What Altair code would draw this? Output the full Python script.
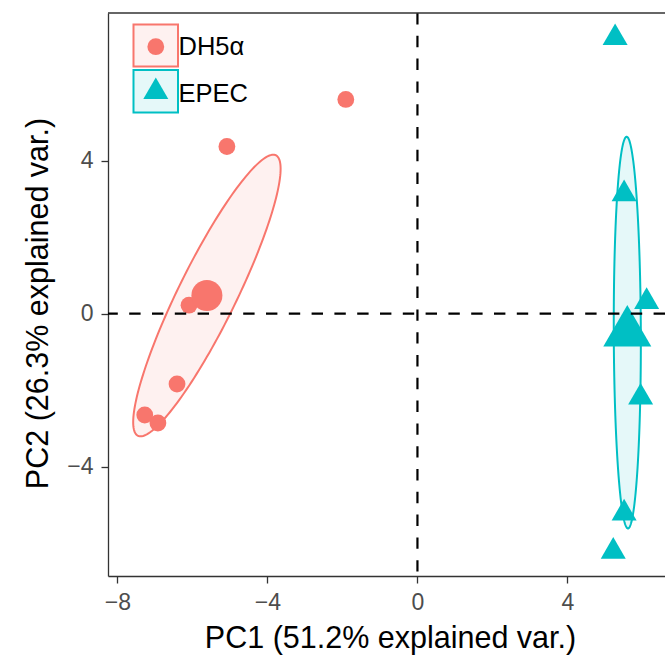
import altair as alt
import numpy as np
import pandas as pd

# ---------------- data ----------------
groups = ["DH5α", "EPEC"]
colors = ["#F8766D", "#00BFC4"]
dh5a_pc1 = [-1.91, -5.08, -6.09, -6.41, -7.27, -6.92]
dh5a_pc2 = [5.60, 4.37, 0.22, -1.84, -2.65, -2.86]
epec_pc1 = [5.27, 5.51, 6.11, 5.95, 5.51, 5.22]
epec_pc2 = [7.21, 3.13, 0.31, -2.19, -5.22, -6.22]
x_ticks = [-8, -4, 0, 4]
y_ticks = [-4, 0, 4]
x_title = "PC1 (51.2% explained var.)"
y_title = "PC2 (26.3% explained var.)"

# ---------------- layout ----------------
W, H = 557, 563
XDOM = [-8.25, 6.6]
YDOM = [-6.86, 7.86]
ELLIPSE_R = 1.0
FONT = "Liberation Sans"
AX = "#333333"
TRI = "M0,-1.1547L1,0.5774L-1,0.5774Z"
shapes = ["circle", TRI]
small_sizes = [283, 625]
big_sizes = [962, 2304]
LABEL_FS = 23

pts = pd.DataFrame({
    "group": [groups[0]] * len(dh5a_pc1) + [groups[1]] * len(epec_pc1),
    "pc1": dh5a_pc1 + epec_pc1,
    "pc2": dh5a_pc2 + epec_pc2,
})

# normal-data ellipses from each group's covariance
rows = []
t = np.linspace(0, 2 * np.pi, 181)
circle = np.column_stack([np.cos(t), np.sin(t)])
for g in groups:
    xy = pts[pts.group == g][["pc1", "pc2"]].to_numpy()
    mu = xy.mean(axis=0)
    sigma = np.cov(xy, rowvar=False)
    R = np.linalg.cholesky(sigma).T
    e = circle @ R * ELLIPSE_R + mu
    for i, (ex, ey) in enumerate(e):
        rows.append({"group": g, "i": i, "pc1": float(ex), "pc2": float(ey)})
ell = pd.DataFrame(rows)

xs = alt.Scale(domain=XDOM, nice=False, zero=False)
ys = alt.Scale(domain=YDOM, nice=False, zero=False)

xaxis = alt.Axis(values=x_ticks, grid=False, domainColor=AX, domainWidth=1.3,
                 tickColor=AX, tickWidth=1.3, tickSize=7, labelFontSize=LABEL_FS,
                 labelColor="#4D4D4D", labelPadding=8, labelFont=FONT,
                 title=x_title, titleFontSize=30.5, titleFontWeight="normal",
                 titleColor="black", titleFont=FONT, titleX=282, titleY=71.3,
                 titleBaseline="alphabetic", titleAlign="center")
yaxis = alt.Axis(values=y_ticks, grid=False, domainColor=AX, domainWidth=1.3,
                 tickColor=AX, tickWidth=1.3, tickSize=7, labelFontSize=LABEL_FS,
                 labelColor="#4D4D4D", labelPadding=8, labelFont=FONT,
                 title=y_title, titleFontSize=30.5, titleFontWeight="normal",
                 titleColor="black", titleFont=FONT, titleX=-61, titleY=290,
                 titleAngle=270, titleBaseline="alphabetic", titleAlign="center")

X = alt.X("pc1:Q", scale=xs, axis=xaxis)
Y = alt.Y("pc2:Q", scale=ys, axis=yaxis)

layers = []
for g, c in zip(groups, colors):
    layers.append(
        alt.Chart(ell[ell.group == g]).mark_line(
            color=c, fill=c, fillOpacity=0.1, strokeWidth=2
        ).encode(x=X, y=Y, order=alt.Order("i:Q"))
    )

for g, c, s, sz, bsz in zip(groups, colors, shapes, small_sizes, big_sizes):
    sub = pts[pts.group == g]
    layers.append(
        alt.Chart(sub).mark_point(filled=True, opacity=1, color=c, shape=s, size=sz)
        .encode(x=X, y=Y)
    )
    layers.append(
        alt.Chart(sub).transform_aggregate(pc1="mean(pc1)", pc2="mean(pc2)")
        .mark_point(filled=True, opacity=1, color=c, shape=s, size=bsz)
        .encode(x=X, y=Y)
    )

zero = pd.DataFrame({"v": [0]})
layers.append(alt.Chart(zero).mark_rule(color="black", strokeWidth=2.2, strokeDash=[11.4, 11.4])
              .encode(x=alt.X("v:Q", scale=xs, axis=xaxis)))
layers.append(alt.Chart(zero).mark_rule(color="black", strokeWidth=2.2, strokeDash=[11.4, 11.4])
              .encode(y=alt.Y("v:Q", scale=ys, axis=yaxis)))

# top panel border
layers.append(alt.Chart(zero).mark_rule(color=AX, strokeWidth=1.3)
              .encode(x=alt.value(0), x2=alt.value(W), y=alt.value(0)))

# legend
leg_y = [(11.5, 53.5, 33.7, 42.0), (57.0, 99.5, 78.9, 88.7)]
for g, c, s, sz, (y1, y2, ysym, ytxt) in zip(groups, colors, shapes, small_sizes, leg_y):
    ld = pd.DataFrame({"label": [g]})
    layers.append(alt.Chart(ld).mark_rect(fill=c, fillOpacity=0.1, stroke=c, strokeWidth=2)
                  .encode(x=alt.value(25.5), x2=alt.value(70), y=alt.value(y1), y2=alt.value(y2)))
    layers.append(alt.Chart(ld).mark_point(filled=True, opacity=1, color=c, shape=s, size=sz)
                  .encode(x=alt.value(47.8), y=alt.value(ysym)))
    layers.append(alt.Chart(ld).mark_text(align="left", baseline="alphabetic", fontSize=25.5,
                                          font=FONT, color="black")
                  .encode(x=alt.value(70.5), y=alt.value(ytxt), text="label:N"))

chart = alt.layer(*layers).properties(
    width=W, height=H,
    autosize=alt.AutoSizeParams(type="none"),
    padding={"left": 108, "top": 13, "right": 0, "bottom": 79},
    background="white",
).configure_view(stroke="transparent")

chart.save("out.html", embed_options={"renderer": "svg", "actions": False})
